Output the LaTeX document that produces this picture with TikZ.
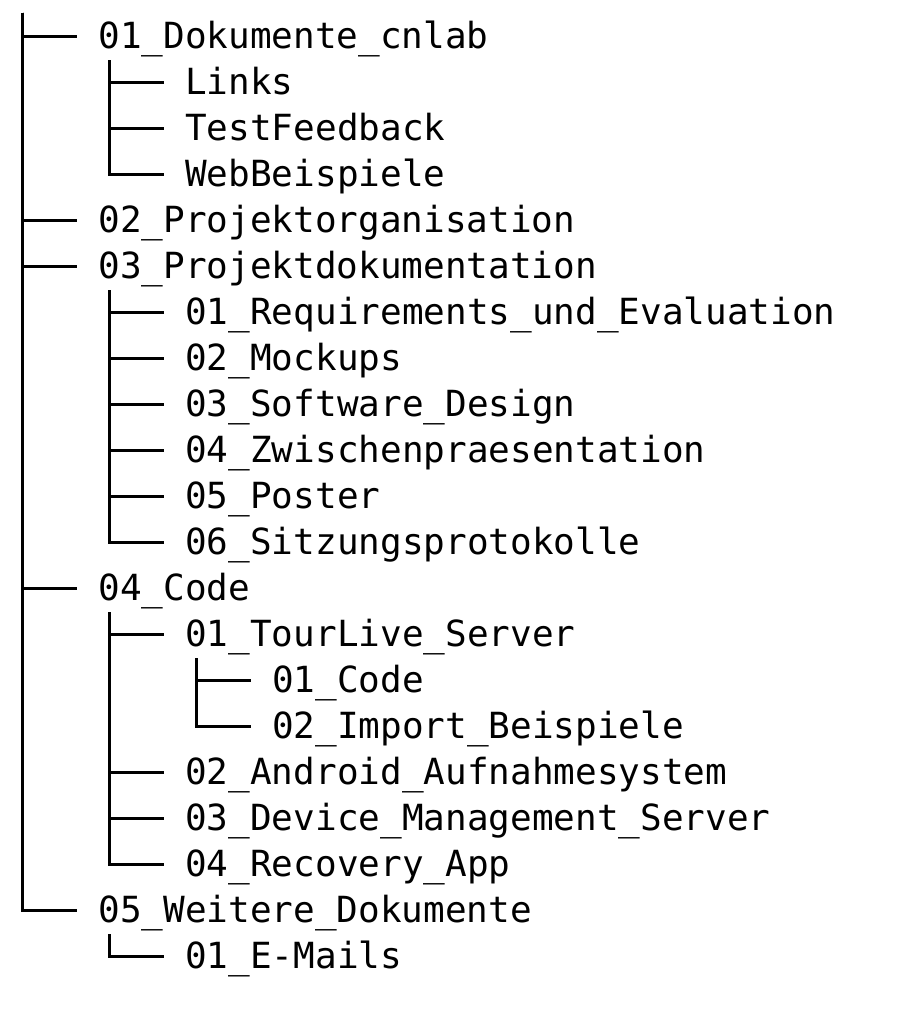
\documentclass[tikz,border=0pt]{standalone}
\usepackage{fontspec}
\newfontfamily\treefont{DejaVu Sans Mono}
\usetikzlibrary{positioning}
\tikzset{
  dir/.style={anchor=west, inner sep=0pt, inner xsep=10.4pt, text height=17.25pt, text depth=5.75pt, font=\treefont\fontsize{18}{23}\selectfont},
  branch/.style={line width=1.5pt},
}

\begin{document}
\begin{tikzpicture}[x=0.5pt, y=0.5pt]
  \useasboundingbox (0,0) rectangle (918,-1026);

  % Nodes
  \coordinate (root) at (22.5,-12.7);
  \node[dir] (docs)     at (77.3,-36.7)  {01\_Dokumente\_cnlab};
  \node[dir] (links)    at (164.1,-82.7) {Links};
  \node[dir] (feedback) at (164.1,-128.7) {TestFeedback};
  \node[dir] (webex)    at (164.1,-174.7) {WebBeispiele};
  \node[dir] (orga)     at (77.3,-220.7) {02\_Projektorganisation};
  \node[dir] (projdoc)  at (77.3,-266.7) {03\_Projektdokumentation};
  \node[dir] (req)      at (164.1,-312.7) {01\_Requirements\_und\_Evaluation};
  \node[dir] (mock)     at (164.1,-358.7) {02\_Mockups};
  \node[dir] (design)   at (164.1,-404.7) {03\_Software\_Design};
  \node[dir] (zwisch)   at (164.1,-450.7) {04\_Zwischenpraesentation};
  \node[dir] (poster)   at (164.1,-496.7) {05\_Poster};
  \node[dir] (sitz)     at (164.1,-542.7) {06\_Sitzungsprotokolle};
  \node[dir] (code)     at (77.3,-588.7) {04\_Code};
  \node[dir] (tour)     at (164.1,-634.7) {01\_TourLive\_Server};
  \node[dir] (tcode)    at (250.9,-680.7) {01\_Code};
  \node[dir] (timport)  at (250.9,-726.7) {02\_Import\_Beispiele};
  \node[dir] (android)  at (164.1,-772.7) {02\_Android\_Aufnahmesystem};
  \node[dir] (device)   at (164.1,-818.7) {03\_Device\_Management\_Server};
  \node[dir] (recovery) at (164.1,-864.7) {04\_Recovery\_App};
  \node[dir] (weitere)  at (77.3,-910.7) {05\_Weitere\_Dokumente};
  \node[dir] (mails)    at (164.1,-956.7) {01\_E-Mails};

  % Top level
  \foreach \n in {docs, orga, projdoc, code, weitere}
    \draw[branch] (root) |- (\n.west);

  % Second level
  \foreach \n in {links, feedback, webex}
    \draw[branch] ([xshift=16pt]docs.south west) |- (\n.west);
  \foreach \n in {req, mock, design, zwisch, poster, sitz}
    \draw[branch] ([xshift=16pt]projdoc.south west) |- (\n.west);
  \foreach \n in {tour, android, device, recovery}
    \draw[branch] ([xshift=16pt]code.south west) |- (\n.west);
  \draw[branch] ([xshift=16pt]weitere.south west) |- (mails.west);

  % Third level
  \foreach \n in {tcode, timport}
    \draw[branch] ([xshift=16pt]tour.south west) |- (\n.west);
\end{tikzpicture}
\end{document}
